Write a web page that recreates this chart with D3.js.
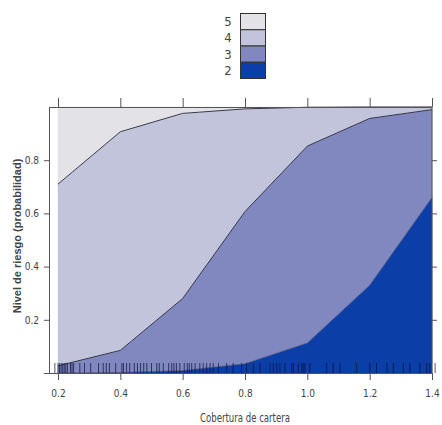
<!DOCTYPE html>
<html>
<head>
<meta charset="utf-8">
<script src="https://cdn.jsdelivr.net/npm/d3@7"></script>
<style>
  html, body { margin: 0; padding: 0; background: #ffffff; }
  svg { display: block; }
  text { font-family: "Liberation Sans Narrow", "DejaVu Sans Condensed", "Liberation Sans", sans-serif; fill: #444; }
</style>
</head>
<body>
<svg id="chart" width="442" height="425"></svg>
<script>
// Cartera coverage grid (x) and predicted probability of each risk level
const cobertura = [0.2, 0.4, 0.6, 0.8, 1.0, 1.2, 1.4];
const nivel2 = [0.000, 0.002, 0.009, 0.035, 0.113, 0.330, 0.660];
const nivel3 = [0.027, 0.083, 0.271, 0.572, 0.740, 0.627, 0.330];
const nivel4 = [0.683, 0.822, 0.696, 0.386, 0.146, 0.043, 0.010];
const nivel5 = [0.290, 0.093, 0.024, 0.007, 0.001, 0.000, 0.000];

const niveles = ["2", "3", "4", "5"];
const colores = { "2": "#0b3ea6", "3": "#8088bf", "4": "#c2c4dc", "5": "#e3e3e7" };

const xTicks = [0.2, 0.4, 0.6, 0.8, 1.0, 1.2, 1.4];
const yTicks = [0.2, 0.4, 0.6, 0.8];

// Observed coverage values shown as a rug along the bottom
const rug = [0.19, 0.2, 0.205, 0.21, 0.215, 0.22, 0.225, 0.23, 0.24, 0.245, 0.25, 0.27, 0.285,
  0.305, 0.33, 0.345, 0.355, 0.365, 0.385, 0.405, 0.41, 0.42, 0.43, 0.445, 0.455, 0.465,
  0.475, 0.485, 0.5, 0.517, 0.525, 0.538, 0.555, 0.565, 0.572, 0.58, 0.591, 0.605, 0.615,
  0.621, 0.629, 0.64, 0.655, 0.666, 0.677, 0.688, 0.698, 0.715, 0.741, 0.762, 0.789, 0.805,
  0.827, 0.848, 0.88, 0.891, 0.902, 0.912, 0.928, 0.95, 0.955, 0.971, 0.982, 0.987, 0.992,
  1.008, 1.062, 1.083, 1.105, 1.158, 1.2, 1.222, 1.255, 1.276, 1.308, 1.329, 1.361, 1.383,
  1.393, 1.41];

const svg = d3.select("#chart");

const frame = { left: 49, right: 432, top: 107, bottom: 373 };
const x = d3.scaleLinear().domain([0.2, 1.4]).range([58, 432]);
const y = d3.scaleLinear().domain([0, 1]).range([373, 107]);

const rows = cobertura.map((c, i) => ({
  x: c, "2": nivel2[i], "3": nivel3[i], "4": nivel4[i], "5": nivel5[i]
}));
const series = d3.stack().keys(niveles)(rows);

const area = d3.area()
  .x(d => x(d.data.x))
  .y0(d => y(d[0]))
  .y1(d => y(Math.min(1, d[1])));

const g = svg.append("g");

g.selectAll("path.capa")
  .data(series)
  .join("path")
  .attr("class", "capa")
  .attr("d", area)
  .attr("fill", d => colores[d.key])
  .attr("stroke", d => colores[d.key])
  .attr("stroke-width", 0.5);

// Dark boundary lines between adjacent levels
const borde = d3.line()
  .x(d => x(d.data.x))
  .y(d => y(Math.min(1, d[1])));
g.selectAll("path.borde")
  .data(series.slice(0, 3))
  .join("path")
  .attr("class", "borde")
  .attr("d", borde)
  .attr("fill", "none")
  .attr("stroke", "#1a1a2e")
  .attr("stroke-opacity", d => d.key === "2" ? 0.35 : 0.85)
  .attr("stroke-width", 1);

// Rug of observations
g.selectAll("line.rug")
  .data(rug)
  .join("line")
  .attr("class", "rug")
  .attr("x1", d => x(d)).attr("x2", d => x(d))
  .attr("y1", 363).attr("y2", 373)
  .attr("stroke", "#10103a")
  .attr("stroke-opacity", 0.7)
  .attr("stroke-width", 1);

// Panel frame
svg.append("rect")
  .attr("x", frame.left + 0.5).attr("y", frame.top + 0.5)
  .attr("width", frame.right - frame.left - 0.5)
  .attr("height", frame.bottom - frame.top)
  .attr("fill", "none")
  .attr("stroke", "#555")
  .attr("stroke-width", 1);

// Axes (ticks on all four sides)
const axisStyle = sel => {
  sel.select(".domain").remove();
  sel.selectAll(".tick line").attr("stroke", "#555");
  sel.selectAll(".tick text")
    .style("font-family", '"Liberation Sans Narrow", "DejaVu Sans Condensed", sans-serif')
    .style("font-size", "10px")
    .attr("fill", "#555");
};

svg.append("g")
  .attr("transform", `translate(0,${frame.bottom})`)
  .call(d3.axisBottom(x).tickValues(xTicks).tickSize(7).tickPadding(10).tickFormat(d3.format(".1f")))
  .call(axisStyle);

svg.append("g")
  .attr("transform", `translate(0,${frame.top})`)
  .call(d3.axisTop(x).tickValues(xTicks).tickSize(9).tickFormat(""))
  .call(axisStyle);

svg.append("g")
  .attr("transform", `translate(${frame.left},0)`)
  .call(d3.axisLeft(y).tickValues(yTicks).tickSize(5).tickPadding(5).tickFormat(d3.format(".1f")))
  .call(axisStyle);

svg.append("g")
  .attr("transform", `translate(${frame.right},0)`)
  .call(d3.axisRight(y).tickValues(yTicks).tickSize(5).tickFormat(""))
  .call(axisStyle);

// Bottom baseline extending slightly past the frame
svg.append("line")
  .attr("x1", 44).attr("x2", frame.right)
  .attr("y1", frame.bottom + 0.5).attr("y2", frame.bottom + 0.5)
  .attr("stroke", "#555");

// Axis titles
svg.append("text")
  .attr("x", 245).attr("y", 422)
  .attr("text-anchor", "middle")
  .attr("textLength", 90)
  .attr("lengthAdjust", "spacingAndGlyphs")
  .style("font-size", "12px")
  .attr("fill", "#444")
  .text("Cobertura de cartera");

svg.append("text")
  .attr("transform", "translate(21,236) rotate(-90)")
  .attr("text-anchor", "middle")
  .style("font-family", '"Liberation Sans", Arial, sans-serif')
  .style("font-size", "11px")
  .style("font-weight", "bold")
  .attr("fill", "#555")
  .text("Nivel de riesgo (probabilidad)");

// Legend, highest level on top
const leyenda = svg.append("g").attr("transform", "translate(240,13)");
const orden = niveles.slice().reverse();
leyenda.selectAll("rect")
  .data(orden)
  .join("rect")
  .attr("x", 0.5).attr("y", (d, i) => i * 16.25 + 0.5)
  .attr("width", 25).attr("height", 16.25)
  .attr("fill", d => colores[d])
  .attr("stroke", "#333")
  .attr("stroke-width", 1);
leyenda.selectAll("text")
  .data(orden)
  .join("text")
  .attr("x", -12).attr("y", (d, i) => i * 16.25 + 8.5)
  .attr("dy", "0.35em")
  .attr("text-anchor", "middle")
  .style("font-size", "13px")
  .attr("fill", "#555")
  .text(d => d);
</script>
</body>
</html>
